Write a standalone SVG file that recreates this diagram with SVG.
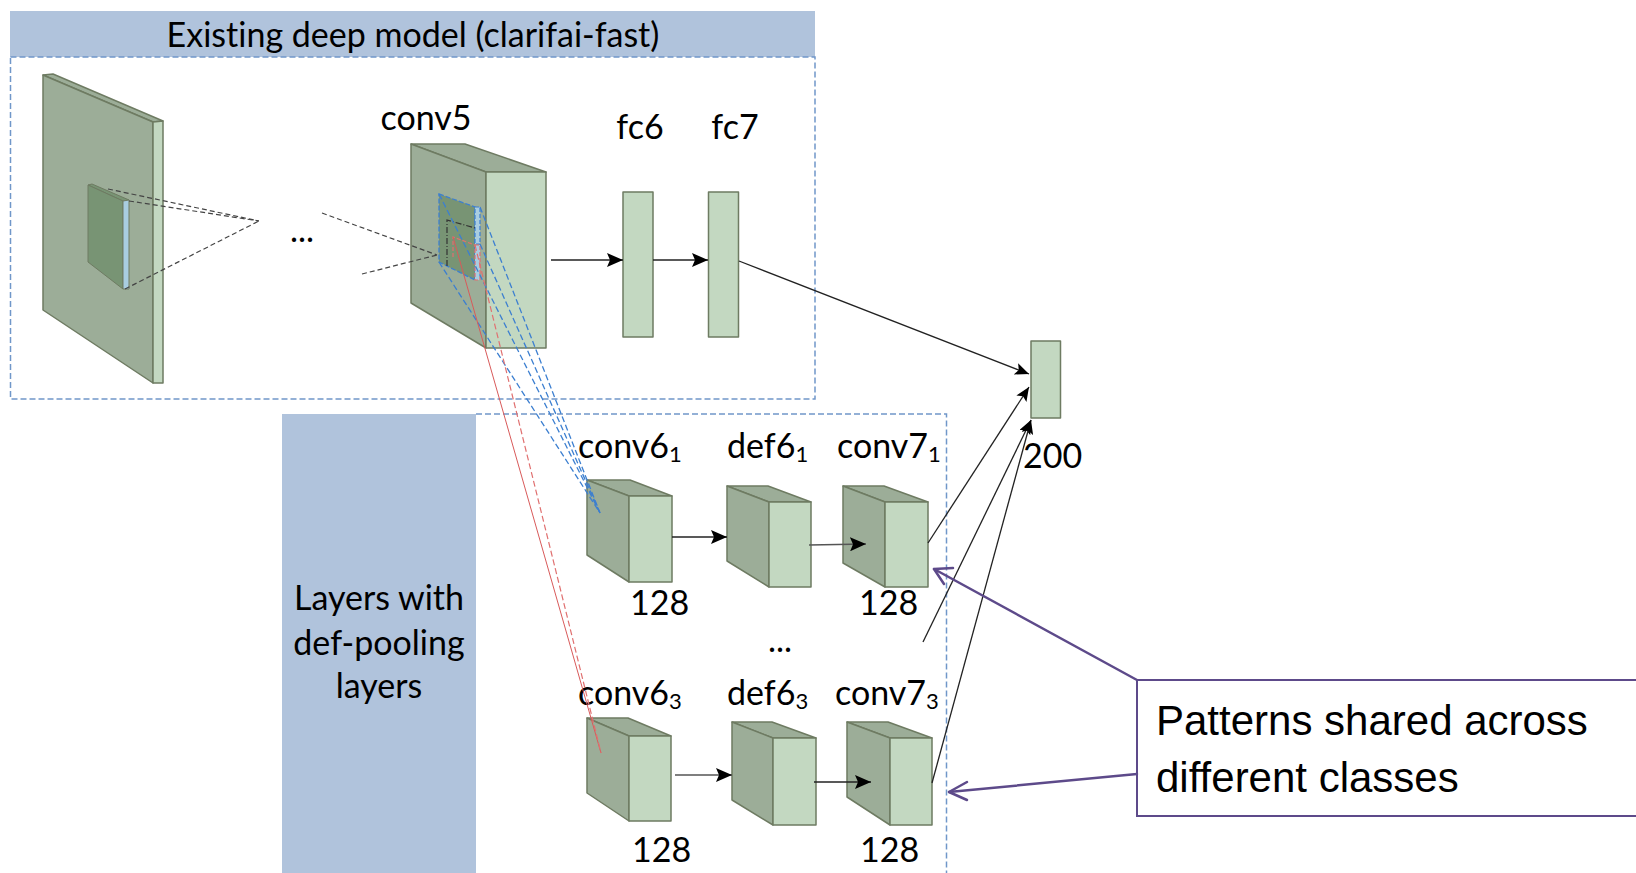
<svg xmlns="http://www.w3.org/2000/svg" width="1636" height="873" viewBox="0 0 1636 873">
<style>
  .lbl { font-family: Lato, "Liberation Sans", sans-serif; font-size: 34px; fill: #000; font-variant-ligatures: none; }
  .call { font-family: "Liberation Sans", Arial, sans-serif; font-size: 42px; fill: #000; }
  .dk { fill: #9cad98; stroke: #6e7b62; stroke-width: 1.5; stroke-linejoin: round; }
  .lt { fill: #c3d8c1; stroke: #6e7b62; stroke-width: 1.5; stroke-linejoin: round; }
  .patch { fill: #789474; stroke: #6e7b62; stroke-width: 1; }
  .strip { fill: #a9cde0; stroke: #6e7b62; stroke-width: 1; }
  .frame { fill: none; stroke: #7097c9; stroke-width: 1.5; stroke-dasharray: 6 3; }
  .band { fill: #b0c3dc; }
  .bd { fill: none; stroke: #444; stroke-width: 1.2; stroke-dasharray: 5 3; }
  .blue { fill: none; stroke: #3c7fd0; stroke-width: 1.3; stroke-dasharray: 6 3; }
  .red { fill: none; stroke: #e07070; stroke-width: 1.2; stroke-dasharray: 6 3; }
  .redsolid { fill: none; stroke: #d85a5a; stroke-width: 1; }
  .arr { fill: none; stroke: #222; stroke-width: 1.3; }
  .arrg { fill: none; stroke: #555; stroke-width: 1.3; }
  .purple { fill: none; stroke: #5d4a8a; stroke-width: 2.5; stroke-linecap: round; stroke-linejoin: round; }
</style>
<defs>
  <marker id="ah" markerUnits="userSpaceOnUse" markerWidth="18" markerHeight="14" refX="16" refY="7" orient="auto">
    <path d="M0,0 L16,7 L0,14 L3,7 Z" fill="#000"/>
  </marker>
  <marker id="ahs" markerUnits="userSpaceOnUse" markerWidth="16" markerHeight="12" refX="14" refY="6" orient="auto">
    <path d="M0,0 L14,6 L0,12 L3,6 Z" fill="#000"/>
  </marker>
</defs>

<g id="existing-model-frame">
  <rect class="band" x="10" y="11" width="805" height="46"/>
  <text class="lbl" x="413" y="47" text-anchor="middle" font-size="35">Existing deep model (clarifai-fast)</text>
  <rect class="frame" x="10.5" y="57" width="804.5" height="342"/>
</g>

<g id="defpool-frame">
  <rect class="band" x="282" y="414" width="194" height="459"/>
  <text class="lbl" x="379" y="610" text-anchor="middle">Layers with</text>
  <text class="lbl" x="379" y="655" text-anchor="middle">def-pooling</text>
  <text class="lbl" x="379" y="698" text-anchor="middle">layers</text>
  <path class="frame" d="M476,414 H946.5 V873"/>
</g>

<g id="input-slab">
  <polygon class="dk" points="43,75 53,74 163,121 153,122"/>
  <polygon class="dk" points="43,75 153,122 153,383 43,310"/>
  <polygon class="lt" points="153,122 163,121 163,383 153,383"/>
  <polygon class="patch" points="88,185 92,184 129,200 123,201"/>
  <polygon class="patch" points="88,185 123,201 123,289 88,262"/>
  <polygon class="strip" points="123,201 129,200 129,289 123,289"/>
</g>

<g id="ellipsis-top">
  <text class="lbl" x="290" y="242" font-size="28">...</text>
</g>

<g id="conv5">
  <polygon class="dk" points="411,144 465,144 546,172 486,172"/>
  <polygon class="dk" points="411,144 486,172 486,348 411,303"/>
  <rect class="lt" x="486" y="172" width="60" height="176"/>
  <polygon points="439,194 475,207 475,280 439,262" fill="#789474" stroke="none"/>
  <polygon points="439,194 475,207 475,280 439,262" fill="none" stroke="#3c7fd0" stroke-width="1.3" stroke-dasharray="5 2"/>
  <rect x="475" y="207" width="5" height="37" fill="#a9cde0" stroke="#3c7fd0" stroke-width="1.2" stroke-dasharray="4 2"/>
  <rect x="475" y="245" width="5" height="35" fill="#a9cde0" stroke="#e07070" stroke-width="1.2" stroke-dasharray="4 2"/>
  <path d="M447,266 V220 L475,228" fill="none" stroke="#333" stroke-width="1.2" stroke-dasharray="6 2 1 2"/>
  <path d="M453,257 V237 L475,245" fill="none" stroke="#e07070" stroke-width="1.2" stroke-dasharray="4 2"/>
  <text class="lbl" x="426" y="130" text-anchor="middle">conv5</text>
</g>

<g id="fc6">
  <rect class="lt" x="623" y="192" width="30" height="145"/>
  <text class="lbl" x="640" y="139" text-anchor="middle">fc6</text>
</g>
<g id="fc7">
  <rect class="lt" x="708.5" y="192" width="30" height="145"/>
  <text class="lbl" x="735" y="139" text-anchor="middle">fc7</text>
</g>

<g id="out200">
  <rect class="lt" x="1031" y="341" width="29.5" height="77"/>
  <text class="lbl" x="1023" y="468" font-size="33">200</text>
</g>

<g id="conv6-1">
  <polygon class="dk" points="587,480 630,480 672,496 629,496"/>
  <polygon class="dk" points="587,480 629,496 629,582 587,555"/>
  <rect class="lt" x="629" y="496" width="43" height="86"/>
  <text class="lbl" x="578" y="458">conv6<tspan font-size="22" dy="4">1</tspan></text>
  <text class="lbl" x="630" y="615" font-size="33">128</text>
</g>
<g id="def6-1">
  <polygon class="dk" points="727,486 768,486 811,502 769,502"/>
  <polygon class="dk" points="727,486 769,502 769,587 727,561"/>
  <rect class="lt" x="769" y="502" width="42" height="85"/>
  <text class="lbl" x="727" y="458">def6<tspan font-size="22" dy="4">1</tspan></text>
</g>
<g id="conv7-1">
  <polygon class="dk" points="843,486 884,486 928,502 885,502"/>
  <polygon class="dk" points="843,486 885,502 885,587 843,563"/>
  <rect class="lt" x="885" y="502" width="43" height="85"/>
  <text class="lbl" x="837" y="458">conv7<tspan font-size="22" dy="4">1</tspan></text>
  <text class="lbl" x="859" y="615" font-size="33">128</text>
</g>

<g id="ellipsis-mid">
  <text class="lbl" x="768" y="652" font-size="26">...</text>
</g>

<g id="conv6-3">
  <polygon class="dk" points="587,718 628,718 671,736 629,736"/>
  <polygon class="dk" points="587,718 629,736 629,821 587,793"/>
  <rect class="lt" x="629" y="736" width="42" height="85"/>
  <text class="lbl" x="578" y="705">conv6<tspan font-size="22" dy="4">3</tspan></text>
  <text class="lbl" x="632" y="862" font-size="33">128</text>
</g>
<g id="def6-3">
  <polygon class="dk" points="732,722 772,722 816,738 773,738"/>
  <polygon class="dk" points="732,722 773,738 773,825 732,800"/>
  <rect class="lt" x="773" y="738" width="43" height="87"/>
  <text class="lbl" x="727" y="705">def6<tspan font-size="22" dy="4">3</tspan></text>
</g>
<g id="conv7-3">
  <polygon class="dk" points="847,722 888,722 932,738 890,738"/>
  <polygon class="dk" points="847,722 890,738 890,825 847,797"/>
  <rect class="lt" x="890" y="738" width="42" height="87"/>
  <text class="lbl" x="835" y="705">conv7<tspan font-size="22" dy="4">3</tspan></text>
  <text class="lbl" x="860" y="862" font-size="33">128</text>
</g>

<g id="callout">
  <rect x="1137" y="680" width="510" height="136" fill="#fff" stroke="#5d4a8a" stroke-width="2"/>
  <text class="call" x="1156" y="735">Patterns shared across</text>
  <text class="call" x="1156" y="792">different classes</text>
</g>

<g id="connectors">
  <line class="bd" x1="108" y1="189" x2="259" y2="221"/>
  <line class="bd" x1="129" y1="201" x2="259" y2="221"/>
  <line class="bd" x1="125" y1="289" x2="259" y2="221"/>
  <line class="bd" x1="322" y1="213" x2="437" y2="255"/>
  <line class="bd" x1="362" y1="274" x2="437" y2="255"/>
  <line class="blue" x1="439" y1="194" x2="600" y2="513"/>
  <line class="blue" x1="480" y1="207" x2="600" y2="513"/>
  <line class="blue" x1="439" y1="262" x2="600" y2="513"/>
  <line class="blue" x1="480" y1="244" x2="600" y2="513"/>
  <line class="redsolid" x1="453" y1="237" x2="601" y2="753"/>
  <line class="red" x1="475" y1="245" x2="601" y2="753"/>
  <line class="arr" x1="551" y1="260" x2="623" y2="260" marker-end="url(#ah)"/>
  <line class="arr" x1="653" y1="260" x2="708" y2="260" marker-end="url(#ah)"/>
  <line class="arr" x1="739" y1="261" x2="1029" y2="374" marker-end="url(#ahs)"/>
  <line class="arr" x1="672" y1="537" x2="727" y2="537" marker-end="url(#ah)"/>
  <line class="arrg" x1="809" y1="545" x2="866" y2="544" marker-end="url(#ah)"/>
  <line class="arrg" x1="675" y1="775" x2="732" y2="775" marker-end="url(#ah)"/>
  <line class="arr" x1="814" y1="782" x2="871" y2="782" marker-end="url(#ah)"/>
  <line class="arr" x1="928" y1="543" x2="1029" y2="387" marker-end="url(#ahs)"/>
  <line class="arr" x1="923" y1="642" x2="1031" y2="420" marker-end="url(#ahs)"/>
  <line class="arr" x1="932" y1="783" x2="1031" y2="420" marker-end="url(#ahs)"/>
  <line class="purple" x1="1137" y1="680" x2="934" y2="569"/>
  <polyline class="purple" points="953,568 934,569 944,584"/>
  <line class="purple" x1="1137" y1="774" x2="949" y2="792"/>
  <polyline class="purple" points="967,782 949,792 967,800"/>
</g>
</svg>
